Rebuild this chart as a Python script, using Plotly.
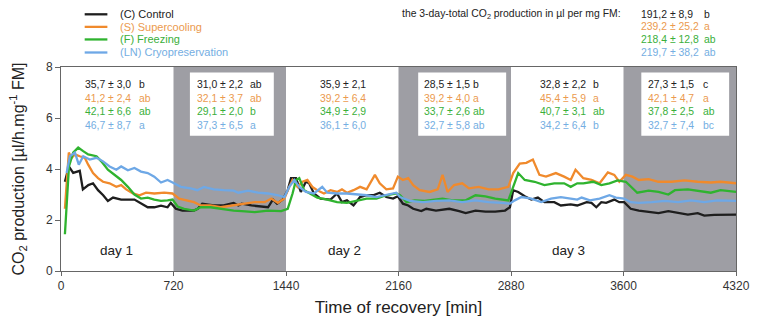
import plotly.graph_objects as go

# ---------------- data ----------------
names = ["(C) Control", "(S) Supercooling", "(F) Freezing", "(LN) Cryopreservation"]
line_colors = ["#1e1e1e", "#f08a2c", "#2fb32f", "#6ea8e6"]
text_colors = ["#222222", "#eb9a4e", "#3aaf3a", "#74aee2"]

t_C = [25, 50, 78, 100, 120, 140, 175, 205, 237, 270, 300, 333, 385, 470, 512, 555, 597, 640, 682, 703,
       735, 777, 851, 875, 904, 978, 1040, 1105, 1135, 1156, 1219, 1282, 1325, 1356, 1383, 1419, 1451,
       1472, 1504, 1535, 1567, 1588, 1619, 1661, 1725, 1767, 1798, 1830, 1872, 1914, 1956, 1998, 2040,
       2082, 2125, 2156, 2188, 2222, 2254, 2306, 2338, 2400, 2485, 2548, 2590, 2653, 2716, 2779, 2842,
       2873, 2894, 2926, 2968, 3010, 3052, 3094, 3157, 3199, 3262, 3304, 3343, 3364, 3395, 3426, 3458,
       3489, 3541, 3573, 3604, 3646, 3698, 3761, 3824, 3887, 3949, 4012, 4075, 4117, 4180, 4242, 4320]
v_C = [3.50, 4.10, 3.85, 3.90, 3.93, 3.20, 3.37, 3.44, 3.17, 2.97, 2.75, 2.88, 2.80, 2.80, 2.64, 2.50,
       2.50, 2.56, 2.50, 2.67, 2.44, 2.37, 2.37, 2.44, 2.64, 2.57, 2.57, 2.67, 2.57, 2.64, 2.57, 2.53,
       2.50, 2.80, 2.64, 2.80, 3.17, 3.64, 3.64, 3.10, 3.50, 3.44, 3.04, 2.84, 2.80, 3.04, 2.70, 2.77,
       2.57, 2.90, 2.97, 2.97, 3.07, 2.90, 2.84, 2.93, 2.64, 2.57, 2.44, 2.35, 2.44, 2.37, 2.44, 2.35,
       2.27, 2.37, 2.33, 2.33, 2.37, 2.50, 3.17, 3.10, 2.93, 2.80, 2.88, 2.70, 2.70, 2.57, 2.61, 2.57,
       2.64, 2.70, 2.67, 2.50, 2.70, 2.67, 2.80, 2.70, 2.70, 2.44, 2.37, 2.31, 2.27, 2.35, 2.27, 2.21,
       2.27, 2.17, 2.20, 2.21, 2.21]

t_S = [25, 50, 68, 89, 120, 152, 174, 205, 237, 269, 311, 354, 385, 417, 460, 502, 544, 597, 661, 714,
       756, 798, 851, 894, 957, 1021, 1105, 1156, 1240, 1304, 1346, 1388, 1430, 1461, 1482, 1514, 1546,
       1577, 1609, 1640, 1683, 1725, 1767, 1798, 1830, 1872, 1914, 1956, 1978, 2009, 2040, 2082, 2125,
       2156, 2188, 2222, 2254, 2296, 2359, 2411, 2442, 2474, 2516, 2568, 2611, 2674, 2737, 2800, 2863,
       2894, 2936, 2978, 3020, 3062, 3104, 3167, 3220, 3262, 3293, 3343, 3395, 3447, 3500, 3541, 3573,
       3615, 3657, 3698, 3761, 3824, 3908, 3991, 4075, 4159, 4221, 4320]
v_S = [2.44, 4.64, 4.44, 4.57, 4.50, 4.44, 4.17, 3.84, 3.64, 3.50, 3.44, 3.30, 3.37, 3.20, 3.04, 2.97,
       3.07, 3.04, 3.07, 3.04, 2.84, 2.77, 2.70, 2.57, 2.57, 2.50, 2.57, 2.64, 2.70, 2.70, 2.84, 2.67,
       2.84, 3.30, 3.57, 3.30, 3.50, 3.57, 3.30, 3.17, 3.04, 3.17, 3.10, 3.20, 3.07, 3.17, 3.30, 3.20,
       3.44, 3.77, 3.44, 3.20, 3.24, 3.70, 3.57, 3.64, 3.37, 3.17, 3.10, 3.20, 3.77, 3.10, 3.37, 3.44,
       3.24, 3.30, 3.20, 3.20, 3.30, 3.84, 4.21, 4.24, 4.37, 3.77, 3.70, 3.84, 3.70, 3.57, 3.97, 3.64,
       3.57, 3.44, 3.87, 3.77, 3.50, 3.77, 3.70, 3.57, 3.60, 3.50, 3.50, 3.55, 3.50, 3.47, 3.50, 3.44]

t_F = [25, 51, 78, 110, 142, 174, 227, 258, 300, 343, 385, 428, 470, 512, 555, 597, 640, 682, 714, 746,
       788, 851, 894, 957, 1021, 1105, 1156, 1240, 1325, 1409, 1451, 1482, 1504, 1525, 1556, 1598, 1640,
       1704, 1767, 1830, 1893, 1956, 2019, 2082, 2146, 2170, 2212, 2264, 2327, 2380, 2442, 2506, 2590,
       2653, 2716, 2779, 2863, 2894, 2926, 2968, 3031, 3094, 3157, 3220, 3262, 3304, 3343, 3406, 3458,
       3510, 3562, 3615, 3657, 3688, 3761, 3824, 3887, 3929, 4012, 4075, 4159, 4221, 4320]
v_F = [1.44, 4.10, 4.64, 4.84, 4.70, 4.57, 4.50, 4.30, 3.97, 3.77, 3.57, 3.30, 3.00, 2.84, 2.88, 2.80,
       2.75, 2.77, 2.80, 2.53, 2.44, 2.37, 2.50, 2.50, 2.44, 2.37, 2.35, 2.31, 2.37, 2.35, 2.44, 3.04,
       3.57, 3.64, 3.17, 3.04, 2.88, 2.80, 2.70, 2.67, 2.77, 2.84, 2.84, 2.97, 3.04, 2.97, 2.70, 2.77,
       2.75, 2.80, 2.84, 2.77, 2.77, 2.97, 2.93, 2.84, 2.77, 3.30, 3.84, 3.57, 3.50, 3.37, 3.44, 3.44,
       3.30, 3.44, 3.44, 3.50, 3.37, 3.44, 3.55, 3.50, 3.24, 3.07, 3.15, 3.10, 3.00, 3.17, 3.20, 3.15,
       3.07, 3.17, 3.10]

t_LN = [36, 57, 89, 114, 142, 184, 227, 269, 311, 354, 385, 428, 470, 512, 555, 597, 640, 682, 714, 767,
        830, 873, 915, 978, 1042, 1105, 1135, 1198, 1261, 1325, 1388, 1430, 1461, 1493, 1525, 1567, 1619,
        1672, 1704, 1767, 1830, 1893, 1956, 2019, 2082, 2146, 2170, 2233, 2317, 2400, 2485, 2568, 2653,
        2737, 2821, 2873, 2904, 2947, 3010, 3073, 3136, 3199, 3262, 3304, 3332, 3385, 3447, 3510, 3552,
        3604, 3646, 3698, 3782, 3866, 3949, 4033, 4117, 4200, 4320]
v_LN = [3.84, 4.50, 4.64, 4.17, 4.50, 4.37, 4.44, 4.30, 4.10, 3.97, 4.10, 3.95, 4.04, 3.90, 3.84, 3.70,
        3.47, 3.57, 3.47, 3.30, 3.24, 3.17, 3.30, 3.20, 3.17, 3.15, 3.07, 3.15, 3.07, 3.04, 2.97, 2.90,
        3.30, 3.57, 3.30, 3.10, 3.04, 3.30, 3.07, 3.04, 3.04, 3.00, 2.97, 2.90, 2.97, 3.07, 2.90, 2.75,
        2.70, 2.75, 2.77, 2.70, 2.77, 2.70, 2.67, 2.64, 2.77, 2.90, 2.84, 2.70, 2.84, 2.90, 2.84, 2.80,
        2.88, 2.77, 2.84, 2.97, 2.88, 2.84, 2.70, 2.67, 2.70, 2.75, 2.70, 2.77, 2.70, 2.77, 2.75]

series_t = [t_C, t_S, t_F, t_LN]
series_v = [v_C, v_S, v_F, v_LN]

# period statistics (mean ± sd per 12 h, letters)
period_stats = [
    ["35,7 ± 3,0", "41,2 ± 2,4", "42,1 ± 6,6", "46,7 ± 8,7"],
    ["31,0 ± 2,2", "32,1 ± 3,7", "29,1 ± 2,0", "37,3 ± 6,5"],
    ["35,9 ± 2,1", "39,2 ± 6,4", "34,9 ± 2,9", "36,1 ± 6,0"],
    ["28,5 ± 1,5", "39,2 ± 4,0", "33,7 ± 2,6", "32,7 ± 5,8"],
    ["32,8 ± 2,2", "45,4 ± 5,9", "40,7 ± 3,1", "34,2 ± 6,4"],
    ["27,3 ± 1,5", "42,1 ± 4,7", "37,8 ± 2,5", "32,7 ± 7,4"],
]
period_letters = [
    ["b", "ab", "ab", "a"],
    ["ab", "ab", "b", "a"],
    ["", "", "", ""],
    ["b", "a", "ab", "ab"],
    ["b", "a", "ab", "b"],
    ["c", "a", "ab", "bc"],
]
total_stats = ["191,2 ± 8,9", "239,2 ± 25,2", "218,4 ± 12,8", "219,7 ± 38,2"]
total_letters = ["b", "a", "ab", "ab"]

night_bands = [(720, 1440), (2160, 2880), (3600, 4320)]
day_labels = ["day 1", "day 2", "day 3"]
day_centers = [357, 1815, 3250]
x_ticks = [0, 720, 1440, 2160, 2880, 3600, 4320]
y_ticks = [0, 2, 4, 6, 8]

# ---------------- figure ----------------
fig = go.Figure()
for name, tt, vv, c in zip(names, series_t, series_v, line_colors):
    fig.add_trace(go.Scatter(x=tt, y=vv, mode="lines", name=name,
                             line=dict(color=c, width=2.3), showlegend=False))

shapes = []
for a, b in night_bands:
    shapes.append(dict(type="rect", xref="x", yref="y", x0=a, x1=b, y0=0, y1=8,
                       fillcolor="#9e9ea4", line=dict(width=0), layer="below"))
box_x = [(825, 1362), (2286, 2849), (3714, 4276)]
for a, b in box_x:
    shapes.append(dict(type="rect", xref="x", yref="y", x0=a, x1=b, y0=5.3, y1=7.78,
                       fillcolor="white", line=dict(width=0), layer="below"))

FS = 10.4
annotations = []
num_x = [141, 857, 1646, 2310, 3052, 3747]
let_x = [488, 1194, 0, 2621, 3394, 4095]
row_y = [7.31, 6.77, 6.24, 5.71]
for p in range(6):
    for i in range(4):
        annotations.append(dict(x=num_x[p], y=row_y[i], xref="x", yref="y", text=period_stats[p][i],
                                showarrow=False, xanchor="left", yanchor="middle",
                                font=dict(size=FS, color=text_colors[i])))
        if period_letters[p][i]:
            annotations.append(dict(x=let_x[p], y=row_y[i], xref="x", yref="y",
                                    text=period_letters[p][i], showarrow=False,
                                    xanchor="left", yanchor="middle",
                                    font=dict(size=FS, color=text_colors[i])))

for lbl, cx in zip(day_labels, day_centers):
    annotations.append(dict(x=cx, y=0.8, xref="x", yref="y", text=lbl, showarrow=False,
                            font=dict(size=13.5, color="#222")))

# legend (manual)
def py(ypix):
    return (325 - ypix - 47) / 211

def px(xpix):
    return (xpix - 61) / 684

leg_y = [12.5, 25.5, 38.5, 52]
for i in range(4):
    shapes.append(dict(type="line", xref="paper", yref="paper",
                       x0=px(85), x1=px(108), y0=py(leg_y[i]), y1=py(leg_y[i]),
                       line=dict(color=line_colors[i], width=2.3)))
    annotations.append(dict(x=px(119), y=py(leg_y[i]), xref="paper", yref="paper", text=names[i],
                            showarrow=False, xanchor="left", yanchor="middle",
                            font=dict(size=11, color=text_colors[i])))
    annotations.append(dict(x=px(647), y=py(leg_y[i]), xref="paper", yref="paper",
                            text=total_stats[i], showarrow=False, xanchor="left", yanchor="middle",
                            font=dict(size=FS, color=text_colors[i])))
    annotations.append(dict(x=px(711), y=py(leg_y[i]), xref="paper", yref="paper",
                            text=total_letters[i], showarrow=False, xanchor="left", yanchor="middle",
                            font=dict(size=FS, color=text_colors[i])))

annotations.append(dict(x=px(405), y=py(12.5), xref="paper", yref="paper",
                        text="the 3-day-total CO<sub>2</sub> production in µl per mg FM:",
                        showarrow=False, xanchor="left", yanchor="middle",
                        font=dict(size=FS, color="#222")))

fig.update_layout(
    width=762, height=325,
    margin=dict(l=61, r=17, t=67, b=47),
    paper_bgcolor="white", plot_bgcolor="white",
    font=dict(family="Liberation Sans, Arial, sans-serif", color="#333"),
    shapes=shapes, annotations=annotations,
    xaxis=dict(range=[0, 4320], tickvals=x_ticks, ticks="outside", ticklen=4, tickcolor="#666",
               showline=True, linecolor="#666", linewidth=1, mirror=True, showgrid=False,
               zeroline=False, tickfont=dict(size=12, color="#333"),
               title=dict(text="Time of recovery [min]", font=dict(size=17, color="#222"),
                          standoff=8)),
    yaxis=dict(range=[0, 8], tickvals=y_ticks, ticks="outside", ticklen=5, tickcolor="#666",
               showline=True, linecolor="#666", linewidth=1, mirror=True, showgrid=False,
               zeroline=False, tickfont=dict(size=12, color="#333"),
               title=dict(text="CO<sub>2</sub> production [µl/h.mg<sup>-1</sup> FM]",
                          font=dict(size=16, color="#222"), standoff=17)),
)

fig.write_html("out.html")
